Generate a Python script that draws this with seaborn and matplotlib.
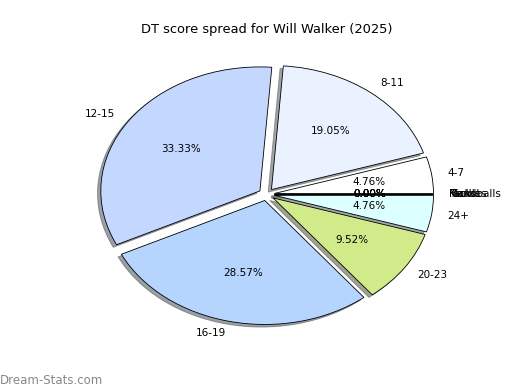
import matplotlib
matplotlib.use("Agg")
import matplotlib.pyplot as plt
import seaborn as sns

# score bands, then the zero-count stat slices that pile up at 0 degrees
labels = ['4-7', '8-11', '12-15', '16-19', '20-23', '24+',
          'Kicks', 'Marks', 'Tackles', 'Handballs']
counts = [1, 4, 7, 6, 2, 1, 0, 0, 0, 0]
colors = ['#ffffff', '#eaf2ff', '#c4d8ff', '#b5d5ff', '#d1eb8a', '#dcffff',
          '#ffffff', '#ffffff', '#ffffff', '#ffffff']
title = 'DT score spread for Will Walker (2025)'

sns.set_style('white')
plt.rcParams['font.family'] = ['DejaVu Sans']
plt.rcParams['text.color'] = 'black'

fig = plt.figure(figsize=(520 / 75, 390 / 75), dpi=75)
fig.subplots_adjust(left=0.13, right=0.895, bottom=0.104, top=0.899)
ax = fig.add_subplot(111)
ax.pie(counts, labels=labels, colors=colors, autopct='%1.2f%%',
       explode=[0.05] * len(counts), shadow=True,
       wedgeprops={'edgecolor': 'black', 'linewidth': 0.8})
ax.set_aspect('auto')
ax.set_title(title, fontsize=12.5)
fig.text(0.0, 0.015, 'Dream-Stats.com', color='#888888', fontsize=11.3)

fig.savefig('out.png', dpi=75)
